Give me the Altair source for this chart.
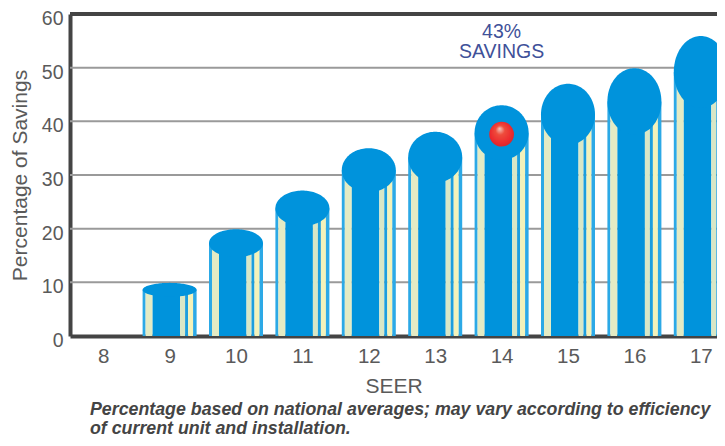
import math
import altair as alt
import pandas as pd

seer = [9, 10, 11, 12, 13, 14, 15, 16, 17]
cap_centre = [8.6, 17.3, 23.8, 30.9, 33.3, 37.9, 41.3, 43.7, 49.2]
cap_half = [1.3, 2.6, 3.3, 4.1, 4.75, 5.1, 5.7, 6.2, 6.7]
tick_labels = list(range(8, 18))
y_ticks = [0, 10, 20, 30, 40, 50, 60]
ball_seer = [14]
ball_value = [37.6]
note_seer = [14, 14]
note_value = [56.6, 52.9]
note_text = ["43%", "SAVINGS"]
foot_lines = ["Percentage based on national averages; may vary according to efficiency",
              "of current unit and installation."]

UNIT = 66.4
HALF = 27 / UNIT
BLUE = "#0093DC"
segments = [
    (-27, -24, "#2CA9E6"), (-24, -17, "#E4EBC4"), (-17, 10.5, BLUE),
    (10.5, 15.5, "#D8E7C6"), (15.5, 18.5, "#1C9EDD"), (18.5, 23.5, "#F3F2BA"),
    (23.5, 27, "#2CA9E6"),
]

bar_rows = []
for s, c in zip(seer, cap_centre):
    for a, b, col in segments:
        bar_rows.append({"x": s + a / UNIT, "x2": s + b / UNIT, "top": c, "base": 0, "col": col})
bars = pd.DataFrame(bar_rows)

cap_rows = []
for s, c, h in zip(seer, cap_centre, cap_half):
    for i in range(0, 61):
        t = math.pi * i / 60
        cap_rows.append({"seer": s, "x": s - HALF * math.cos(t),
                         "up": c + h * math.sin(t), "lo": c - h * math.sin(t)})
caps = pd.DataFrame(cap_rows)

PLOT_W = 647
X = alt.Scale(domain=[7.5, 7.5 + PLOT_W / UNIT], nice=False, zero=False)
Y = alt.Scale(domain=[0, 60], nice=False)
LABEL = "#5A5A5A"
FONT = "Liberation Sans"

grid = alt.Chart(pd.DataFrame({"v": y_ticks[1:-1]})).mark_rule(color="#9A9A9A", strokeWidth=2).encode(
    y=alt.Y("v:Q", scale=Y, axis=alt.Axis(
        values=y_ticks, title="Percentage of Savings", grid=False, ticks=False,
        domainColor="#444444", domainWidth=4, labelColor=LABEL, labelFontSize=19.5,
        labelPadding=7, labelOffset=4.5, labelFont=FONT, titleFont=FONT, titleFontWeight="normal",
        titleFontSize=21, titleColor=LABEL, titlePadding=11)),
)
top_rule = alt.Chart(pd.DataFrame({"v": [60]})).mark_rule(color="#444444", strokeWidth=4).encode(
    y=alt.Y("v:Q", scale=Y))

body = alt.Chart(bars).mark_rect(clip=True).encode(
    x=alt.X("x:Q", scale=X, axis=alt.Axis(
        values=tick_labels, format="d", title="SEER", grid=False, ticks=False,
        domainColor="#444444", domainWidth=4, labelColor=LABEL, labelFontSize=20.5,
        labelPadding=10, labelFont=FONT, titleFont=FONT, titleFontWeight="normal",
        titleFontSize=21, titleColor=LABEL, titlePadding=9)),
    x2="x2:Q",
    y=alt.Y("top:Q", scale=Y),
    y2="base:Q",
    color=alt.Color("col:N", scale=None),
)

cap = alt.Chart(caps).mark_area(color=BLUE, clip=True, interpolate="linear").encode(
    x=alt.X("x:Q", scale=X),
    y=alt.Y("up:Q", scale=Y),
    y2="lo:Q",
    detail="seer:N",
)

ball = alt.Chart(pd.DataFrame({"x": ball_seer, "y": ball_value})).mark_circle(
    size=610, opacity=1,
    fill={
        "gradient": "radial", "x1": 0.42, "y1": 0.27, "r1": 0, "x2": 0.5, "y2": 0.5, "r2": 0.62,
        "stops": [{"offset": 0, "color": "#F6C8BE"}, {"offset": 0.3, "color": "#EE4C3C"},
                  {"offset": 0.7, "color": "#EC2A2E"}, {"offset": 1, "color": "#C9252B"}]},
).encode(x=alt.X("x:Q", scale=X), y=alt.Y("y:Q", scale=Y))

note = alt.Chart(pd.DataFrame({"x": note_seer, "y": note_value, "t": note_text})).mark_text(
    color="#3F5199", font=FONT, fontSize=19.5, align="center", baseline="middle",
).encode(x=alt.X("x:Q", scale=X), y=alt.Y("y:Q", scale=Y), text="t:N")

foot = alt.Chart(pd.DataFrame({"t": foot_lines, "py": [396, 415]})).mark_text(
    color="#444444", font=FONT, fontSize=17.8, fontStyle="italic", fontWeight="bold",
    align="left", baseline="middle",
).encode(x=alt.value(20), y=alt.Y("py:Q", scale=None), text="t:N")

chart = alt.layer(grid, body, cap, top_rule, ball, note, foot).properties(
    width=PLOT_W, height=322,
    autosize=alt.AutoSizeParams(type="none"),
    padding={"left": 62, "top": 6, "right": 0, "bottom": 102},
    background="#FFFFFF",
).configure_view(stroke=None)

chart.save("out.html", embed_options={"renderer": "svg", "actions": False})
